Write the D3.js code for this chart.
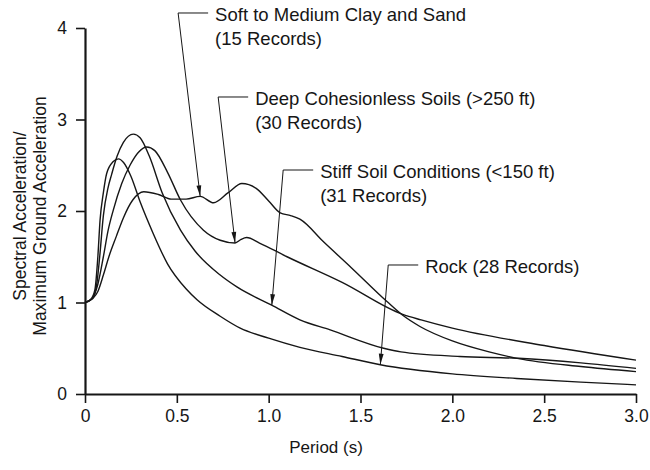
<!DOCTYPE html>
<html>
<head>
<meta charset="utf-8">
<script src="https://cdn.jsdelivr.net/npm/d3@7"></script>
<style>
  body { margin: 0; background: #fff; }
  svg { display: block; }
  text { font-family: "Liberation Sans", Arial, Helvetica, sans-serif; fill: #161616; }
</style>
</head>
<body>
<svg id="chart" width="650" height="470"></svg>
<script>
// Normalised response spectra (5% damping) by site condition
const softPeriod = [0, 0.04, 0.07, 0.10, 0.13, 0.17, 0.21, 0.26, 0.32, 0.40, 0.47, 0.55, 0.627, 0.70, 0.78, 0.854, 0.93, 1.00, 1.063, 1.12, 1.17, 1.30, 1.45, 1.644, 1.73, 1.826, 2.00, 2.20, 2.353, 2.70, 3.00];
const softSa     = [1.00, 1.04, 1.12, 1.30, 1.50, 1.72, 1.93, 2.12, 2.21, 2.18, 2.13, 2.13, 2.16, 2.09, 2.20, 2.30, 2.25, 2.11, 1.98, 1.95, 1.91, 1.66, 1.38, 1.01, 0.86, 0.735, 0.58, 0.46, 0.39, 0.30, 0.245];

const deepPeriod = [0, 0.04, 0.07, 0.10, 0.125, 0.154, 0.20, 0.245, 0.29, 0.336, 0.38, 0.45, 0.52, 0.645, 0.736, 0.817, 0.85, 0.88, 0.95, 1.10, 1.40, 1.73, 1.83, 2.00, 2.50, 3.00];
const deepSa     = [1.00, 1.05, 1.20, 1.50, 1.78, 2.01, 2.30, 2.50, 2.64, 2.70, 2.66, 2.42, 2.12, 1.79, 1.68, 1.65, 1.69, 1.71, 1.65, 1.50, 1.22, 0.87, 0.81, 0.72, 0.53, 0.37];

const stiffPeriod = [0, 0.04, 0.064, 0.08, 0.10, 0.125, 0.145, 0.175, 0.209, 0.263, 0.30, 0.35, 0.42, 0.52, 0.60, 0.736, 0.827, 1.017, 1.17, 1.335, 1.626, 1.72, 2.04, 2.36, 2.70, 3.00];
const stiffSa     = [1.00, 1.04, 1.20, 1.50, 1.95, 2.25, 2.40, 2.60, 2.75, 2.84, 2.80, 2.60, 2.20, 1.79, 1.56, 1.30, 1.17, 0.97, 0.81, 0.70, 0.50, 0.46, 0.41, 0.39, 0.34, 0.28];

const rockPeriod = [0, 0.03, 0.054, 0.07, 0.082, 0.10, 0.118, 0.154, 0.182, 0.21, 0.25, 0.30, 0.37, 0.45, 0.55, 0.61, 0.736, 0.845, 1.00, 1.17, 1.40, 1.608, 2.00, 2.35, 2.70, 3.00];
const rockSa     = [1.00, 1.03, 1.14, 1.50, 1.90, 2.20, 2.41, 2.54, 2.57, 2.53, 2.38, 2.10, 1.76, 1.42, 1.15, 1.03, 0.85, 0.72, 0.61, 0.51, 0.41, 0.32, 0.22, 0.17, 0.13, 0.10];

const seriesNames = ["Soft to Medium Clay and Sand", "Deep Cohesionless Soils (>250 ft)", "Stiff Soil Conditions (<150 ft)", "Rock"];
const recordLabels = ["(15 Records)", "(30 Records)", "(31 Records)", "(28 Records)"];

const xTicks = [0, 0.5, 1.0, 1.5, 2.0, 2.5, 3.0];
const xTickLabels = ["0", "0.5", "1.0", "1.5", "2.0", "2.5", "3.0"];
const yTicks = [0, 1, 2, 3, 4];
const yTickLabels = ["0", "1", "2", "3", "4"];

// Callout layout: period of the point each arrow touches, and the elbow of each leader (period, ratio)
const calloutTipPeriod = [0.627, 0.817, 1.017, 1.608];
const calloutElbow = [[0.507, 4.164], [0.725, 3.246], [1.079, 2.448], [1.651, 1.41]];

const svg = d3.select("#chart");
const x = d3.scaleLinear().domain([0, 3]).range([85, 636]);
const y = d3.scaleLinear().domain([0, 4]).range([394, 28]);

const series = [
  { name: seriesNames[0], t: softPeriod,  s: softSa },
  { name: seriesNames[1], t: deepPeriod,  s: deepSa },
  { name: seriesNames[2], t: stiffPeriod, s: stiffSa },
  { name: seriesNames[3], t: rockPeriod,  s: rockSa }
];

// Curves
const line = d3.line()
  .x(d => x(d[0]))
  .y(d => y(d[1]))
  .curve(d3.curveMonotoneX);

svg.append("g")
  .selectAll("path")
  .data(series)
  .join("path")
  .attr("d", d => line(d.t.map((t, i) => [t, d.s[i]])))
  .attr("fill", "none")
  .attr("stroke", "#161616")
  .attr("stroke-width", 1.4);

// Axes
const xAxis = svg.append("g")
  .attr("transform", `translate(0,${y(0)})`)
  .call(d3.axisBottom(x).tickValues(xTicks).tickFormat((d, i) => xTickLabels[i])
    .tickSize(9).tickSizeOuter(0).tickPadding(7));

const yAxis = svg.append("g")
  .attr("transform", `translate(${x(0)},0)`)
  .call(d3.axisLeft(y).tickValues(yTicks).tickFormat((d, i) => yTickLabels[i])
    .tickSize(9).tickSizeOuter(0).tickPadding(9));

[xAxis, yAxis].forEach(g => {
  g.select(".domain").attr("stroke", "#161616").attr("stroke-width", 2.2);
  g.selectAll(".tick line").attr("stroke", "#161616").attr("stroke-width", 1.6);
  g.selectAll(".tick text").attr("font-size", 17.5).attr("fill", "#161616")
    .attr("font-family", "\"Liberation Sans\", Arial, Helvetica, sans-serif");
});

// Axis titles
svg.append("text")
  .attr("x", 326).attr("y", 453)
  .attr("text-anchor", "middle")
  .attr("font-size", 17)
  .text("Period (s)");

const yTitle = svg.append("text")
  .attr("transform", "translate(0,216) rotate(-90)")
  .attr("text-anchor", "middle")
  .attr("font-size", 17.5);
yTitle.append("tspan").attr("x", 0).attr("y", 26).text("Spectral Acceleration/");
yTitle.append("tspan").attr("x", 0).attr("y", 46).text("Maximum Ground Acceleration");

// Callouts with arrows
const callouts = svg.append("g");
series.forEach((sr, k) => {
  const idx = sr.t.indexOf(calloutTipPeriod[k]);
  const tx = x(sr.t[idx]), ty = y(sr.s[idx]);
  const ex = x(calloutElbow[k][0]), ey = y(calloutElbow[k][1]);
  const hx = ex + 30;

  callouts.append("path")
    .attr("d", `M${hx},${ey}H${ex}L${tx},${ty}`)
    .attr("fill", "none")
    .attr("stroke", "#161616")
    .attr("stroke-width", 1);

  // arrowhead pointing from the elbow toward the tip
  const ang = Math.atan2(ty - ey, tx - ex);
  const len = 11, half = 2.4;
  const bx = tx - len * Math.cos(ang), by = ty - len * Math.sin(ang);
  const px = -Math.sin(ang) * half, py = Math.cos(ang) * half;
  callouts.append("path")
    .attr("d", `M${tx},${ty}L${bx + px},${by + py}L${bx - px},${by - py}Z`)
    .attr("fill", "#161616");

  const label = callouts.append("text")
    .attr("font-size", 18.5)
    .attr("x", hx + 7)
    .attr("y", ey + 2)
    .attr("dy", "0.35em");
  if (k < 3) {
    label.text(sr.name);
    callouts.append("text")
      .attr("font-size", 18.5)
      .attr("x", hx + 7)
      .attr("y", ey + 26)
      .attr("dy", "0.35em")
      .text(recordLabels[k]);
  } else {
    label.text(sr.name + " " + recordLabels[k]);
  }
});
</script>
</body>
</html>
